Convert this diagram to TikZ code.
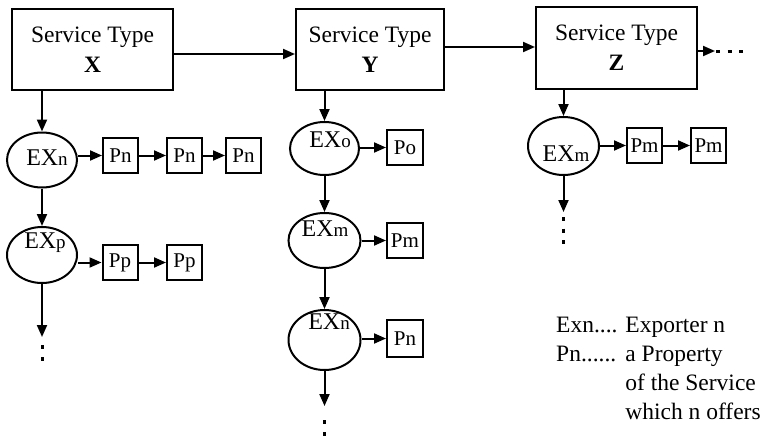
\documentclass[tikz,border=0pt]{standalone}
\usepackage{fontspec}
\setmainfont{Liberation Serif}
\usetikzlibrary{arrows.meta,shapes.geometric}
% exporter name: large "EX" followed by a smaller index letter
\newcommand\exname[1]{\fontsize{24}{24}\selectfont EX{\fontsize{19}{19}\selectfont #1}}
\begin{document}
\begin{tikzpicture}[x=1pt,y=-1pt,
  svc/.style={draw,line width=2pt,rectangle,minimum height=81pt,align=center,
    font=\fontsize{23.5}{30}\selectfont,inner sep=0pt},
  exp/.style={draw,ellipse,line width=2pt,minimum width=70pt,minimum height=55pt,inner sep=0pt},
  prop/.style={draw,rectangle,line width=2pt,minimum width=35pt,minimum height=35pt,
    inner sep=0pt,font=\fontsize{21}{21}\selectfont},
  link/.style={line width=2pt,-{Triangle[length=12pt,width=10pt]}},
  more/.style={line width=3pt,dash pattern=on 4pt off 8pt},
]
\useasboundingbox (0,0) rectangle (765,439);

% service types
\node[svc,minimum width=161pt] (X) at (92.5,49.5) {Service Type\\\textbf{X}};
\node[svc,minimum width=148pt] (Y) at (370,49.5) {Service Type\\\textbf{Y}};
\node[svc,minimum width=161pt,minimum height=82pt] (Z) at (616.5,48) {Service Type\\\textbf{Z}};
\coordinate (zmore) at (715,51);

\draw[link] ([yshift=-4.5pt]X.east) -- ([yshift=-4.5pt]Y.west);
\draw[link] ([yshift=2.5pt]Y.east) -- ([yshift=1pt]Z.west);
\draw[link] ([yshift=-3pt]Z.east) -- (zmore);
\draw[line width=3pt,dash pattern=on 4pt off 7.5pt] (zmore) ++(1,0) -- ++(28,0);

% column X
\node[exp] (EXn) at (42,160) {};
\node at ([xshift=5pt,yshift=2pt]EXn.center) {\exname{n}};
\node[exp,minimum height=56pt] (EXp) at (42,255) {};
\node at ([xshift=3pt,yshift=12pt]EXp.center) {\exname{p}};
\node[prop] (xp1) at (120.5,155.5) {Pn};
\node[prop] (xp2) at (184.5,155.5) {Pn};
\node[prop] (xp3) at (243.5,155.5) {Pn};
\node[prop] (xq1) at (120,262.5) {Pp};
\node[prop] (xq2) at (184.5,262.5) {Pp};
\coordinate (xend) at (42,337);

\draw[link] (EXn.north |- X.south) -- (EXn.north);
\draw[link] (EXn.south) -- (EXp.north);
\draw[link] (EXp.south) -- (xend);
\draw[more] (xend) ++(0,8) -- ++(0,16);
\draw[link] (EXn.east |- xp1.west) -- (xp1.west);
\draw[link] (xp1.east) -- (xp2.west);
\draw[link] (xp2.east) -- (xp3.west);
\draw[link] (EXp.east |- xq1.west) -- (xq1.west);
\draw[link] (xq1.east) -- (xq2.west);

% column Y
\node[exp,minimum width=69pt,minimum height=53pt] (EXo) at (324.5,148.5) {};
\node at ([xshift=5.5pt,yshift=8.5pt]EXo.center) {\exname{o}};
\node[exp,minimum width=72pt] (EXm) at (324.5,240.5) {};
\node at ([xshift=0.5pt,yshift=11.5pt]EXm.center) {\exname{m}};
\node[exp,minimum width=72pt,minimum height=60pt] (EXny) at (324.5,340) {};
\node at ([xshift=4.5pt,yshift=18pt]EXny.center) {\exname{n}};
\node[prop,minimum width=36pt] (yo) at (405,147.5) {Po};
\node[prop,minimum width=36pt] (ym) at (405,240.5) {Pm};
\node[prop,minimum width=36pt,minimum height=37pt] (yn) at (405,338.5) {Pn};
\coordinate (yend) at (324.5,406);

\draw[link] (EXo.north |- Y.south) -- (EXo.north);
\draw[link] (EXo.south) -- (EXm.north);
\draw[link] (EXm.south) -- (EXny.north);
\draw[link] (EXny.south) -- (yend);
\draw[more] (yend) ++(0,14) -- ++(0,16);
\draw[link] (EXo.east |- yo.west) -- (yo.west);
\draw[link] (EXm.east |- ym.west) -- (ym.west);
\draw[link] (EXny.east |- yn.west) -- (yn.west);

% column Z
\node[exp,minimum width=71pt,minimum height=58pt] (EXmz) at (563.5,146) {};
\node at ([xshift=2.5pt,yshift=-8pt]EXmz.center) {\exname{m}};
\node[prop] (zm1) at (644.5,145.5) {Pm};
\node[prop] (zm2) at (708.5,145.5) {Pm};
\coordinate (zend) at (563.5,212);

\draw[link] (EXmz.north |- Z.south) -- (EXmz.north);
\draw[link] (EXmz.south) -- (zend);
\draw[line width=3pt,dash pattern=on 4pt off 7.5pt] (zend) ++(0,5) -- ++(0,28);
\draw[link] (EXmz.east |- zm1.west) -- (zm1.west);
\draw[link] (zm1.east) -- (zm2.west);

% legend
\node[anchor=north west,inner sep=0pt,font=\fontsize{23.5}{29}\selectfont] (key) at (556,312)
  {\begin{tabular}{@{}l@{ }l@{}}
    Exn.... & Exporter n\\
    Pn...... & a Property\\
     & of the Service\\
     & which n offers
  \end{tabular}};
\end{tikzpicture}
\end{document}
